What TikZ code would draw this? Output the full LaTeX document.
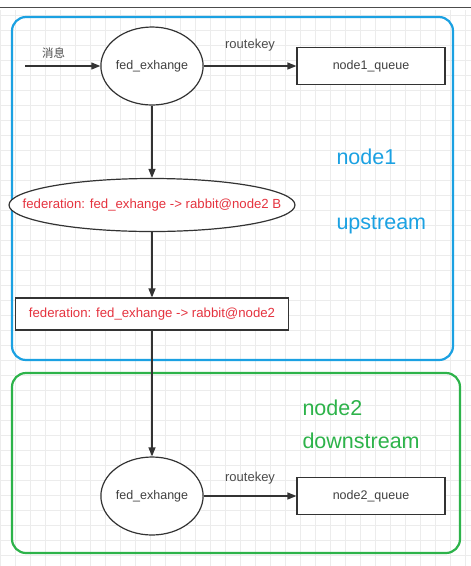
\documentclass[tikz,border=0pt]{standalone}
\usepackage{fontspec}
\setmainfont{Liberation Sans}
\newfontfamily\cjkfont{Noto Sans CJK SC}
\usetikzlibrary{shapes.geometric, arrows.meta, positioning}
\definecolor{upblue}{HTML}{1BA1E2}
\definecolor{downgreen}{HTML}{2DB34A}
\definecolor{fedred}{HTML}{E5333F}
\definecolor{linegray}{HTML}{333333}
\definecolor{gridgray}{HTML}{ECECEC}

\begin{document}
\begin{tikzpicture}[x=1pt, y=-1pt,
    exch/.style={ellipse, draw=linegray, line width=1.2pt, fill=white, inner sep=0pt,
      minimum width=100pt, minimum height=78pt, text=black!75, font=\fontsize{12.5}{14}\selectfont},
    queue/.style={rectangle, draw=linegray, line width=1.2pt, fill=white,
      minimum width=148pt, minimum height=37pt, text=black!75, font=\fontsize{12.5}{14}\selectfont},
    fedlink/.style={draw=linegray, line width=1.2pt, fill=white, text=fedred, font=\fontsize{13.2}{15}\selectfont},
    flow/.style={draw=linegray, line width=1.2pt, -{Triangle[length=9pt, width=7pt]}},
    keylabel/.style={text=black!70, font=\fontsize{13}{14}\selectfont},
    zone/.style={rounded corners=14pt, line width=2.2pt},
    zonelabel/.style={font=\fontsize{21.5}{24}\selectfont, anchor=west}]
  \useasboundingbox (0,0) rectangle (471,566);
  \fill[white] (0,0) rectangle (471,566);
  % Background grid
  \draw[gridgray, line width=0.6pt, step=15pt] (0,10) grid (471,566);
  \draw[black!70, line width=1pt] (0,7) -- (471,7);

  % Zones
  \draw[zone, upblue] (12,17) rectangle (453,360);
  \draw[zone, downgreen] (12,373) rectangle (460,553);
  \node[zonelabel, text=upblue] (lblnodeA) at (333,157) {node1};
  \node[zonelabel, text=upblue] (lblup) at (333,225) {upstream};
  \node[zonelabel, text=downgreen] (lblnodeB) at (299,408) {node2};
  \node[zonelabel, text=downgreen] (lbldown) at (299,441) {downstream};

  % Upstream side
  \coordinate (msgin) at (25,66);
  \node[exch] (upex) at (152,66) {fed\_exhange};
  \node[queue] (upq) at (371,66) {node1\_queue};
  \node[fedlink, ellipse, minimum width=286pt, minimum height=53pt, inner xsep=-45pt, inner ysep=0pt] (fedex) at (152,205)
    {federation: fed\_exhange -> rabbit@node2 B};
  \node[fedlink, rectangle, minimum width=273pt, minimum height=32pt, inner xsep=0pt] (fedq) at (152,314)
    {federation: fed\_exhange -> rabbit@node2};

  % Downstream side
  \node[exch] (downex) at (152,496) {fed\_exhange};
  \node[queue] (downq) at (371,496) {node2\_queue};

  % Connectors
  \draw[flow] (msgin) -- node[above=4pt, pos=0.38, keylabel] {\cjkfont\fontsize{11.5}{13}\selectfont 消息} (upex);
  \draw[flow] (upex) -- node[above=11pt, keylabel] {routekey} (upq);
  \draw[flow] (upex) -- (fedex);
  \draw[flow] (fedex) -- (fedq);
  \draw[flow] (fedq) -- (downex);
  \draw[flow] (downex) -- node[above=8pt, keylabel] {routekey} (downq);
\end{tikzpicture}
\end{document}
